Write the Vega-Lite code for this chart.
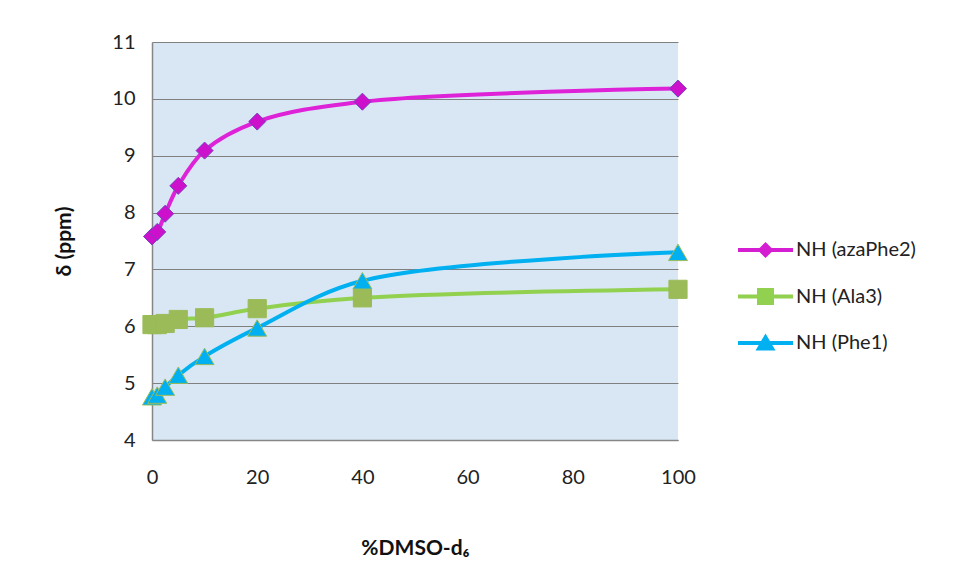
{
  "$schema": "https://vega.github.io/schema/vega-lite/v6.json",
  "width": 526,
  "height": 398,
  "autosize": "none",
  "padding": {"left": 152, "top": 42, "right": 278, "bottom": 141},
  "background": "white",
  "config": {
    "font": "Lato",
    "view": {"fill": "#d9e7f5", "stroke": null},
    "axis": {
      "labelFont": "Lato",
      "labelFontSize": 20,
      "labelColor": "#222222",
      "domainColor": "#868686",
      "domainWidth": 1.5,
      "ticks": false,
      "labelFlush": false,
      "gridColor": "#808080",
      "gridWidth": 1.2,
      "titleFont": "Lato",
      "titleFontWeight": "bold",
      "titleFontSize": 21,
      "titleColor": "#111111"
    }
  },
  "data": {
    "values": [
      {"x": 0, "y": 7.58, "s": "NH (azaPhe2)"},
      {"x": 1, "y": 7.66, "s": "NH (azaPhe2)"},
      {"x": 2.5, "y": 7.98, "s": "NH (azaPhe2)"},
      {"x": 5, "y": 8.47, "s": "NH (azaPhe2)"},
      {"x": 10, "y": 9.09, "s": "NH (azaPhe2)"},
      {"x": 20, "y": 9.6, "s": "NH (azaPhe2)"},
      {"x": 40, "y": 9.95, "s": "NH (azaPhe2)"},
      {"x": 100, "y": 10.18, "s": "NH (azaPhe2)"},
      {"x": 0, "y": 6.03, "s": "NH (Ala3)"},
      {"x": 1, "y": 6.03, "s": "NH (Ala3)"},
      {"x": 2.5, "y": 6.05, "s": "NH (Ala3)"},
      {"x": 5, "y": 6.12, "s": "NH (Ala3)"},
      {"x": 10, "y": 6.15, "s": "NH (Ala3)"},
      {"x": 20, "y": 6.31, "s": "NH (Ala3)"},
      {"x": 40, "y": 6.5, "s": "NH (Ala3)"},
      {"x": 100, "y": 6.65, "s": "NH (Ala3)"},
      {"x": 0, "y": 4.76, "s": "NH (Phe1)"},
      {"x": 1, "y": 4.79, "s": "NH (Phe1)"},
      {"x": 2.5, "y": 4.93, "s": "NH (Phe1)"},
      {"x": 5, "y": 5.14, "s": "NH (Phe1)"},
      {"x": 10, "y": 5.47, "s": "NH (Phe1)"},
      {"x": 20, "y": 5.97, "s": "NH (Phe1)"},
      {"x": 40, "y": 6.8, "s": "NH (Phe1)"},
      {"x": 100, "y": 7.3, "s": "NH (Phe1)"}
    ]
  },
  "encoding": {
    "x": {
      "field": "x", "type": "quantitative",
      "scale": {"domain": [0, 100], "nice": false},
      "axis": {"values": [0, 20, 40, 60, 80, 100], "grid": false, "labelPadding": 27, "title": "%DMSO-d₆", "titlePadding": 50}
    },
    "y": {
      "field": "y", "type": "quantitative",
      "scale": {"domain": [4, 11], "nice": false, "zero": false},
      "axis": {"values": [4, 5, 6, 7, 8, 9, 10, 11], "grid": true, "labelPadding": 17, "title": "δ (ppm)", "titlePadding": 37}
    }
  },
  "layer": [
    {
      "mark": {"type": "line", "interpolate": "catmull-rom", "strokeWidth": 4},
      "encoding": {
        "color": {
          "field": "s", "type": "nominal",
          "scale": {"domain": ["NH (azaPhe2)", "NH (Ala3)", "NH (Phe1)"], "range": ["#de22d8", "#92d050", "#00b0f0"]},
          "legend": {
            "title": null,
            "orient": "none",
            "legendX": 581,
            "legendY": 198,
            "labelFontSize": 20,
            "labelFont": "Lato",
            "labelColor": "#222222",
            "labelOffset": 43,
            "symbolSize": 100,
            "rowPadding": 26.5,
            "encode": {
              "symbols": {
                "update": {
                  "shape": {"signal": "datum.value === 'NH (azaPhe2)' ? 'M-1,-0.4H10V0.4H-1Z M4.5,-1.6L6.1,0L4.5,1.6L2.9,0Z' : datum.value === 'NH (Ala3)' ? 'M-1,-0.4H10V0.4H-1Z M2.8,-1.7H6.2V1.7H2.8Z' : 'M-1,-0.4H10V0.4H-1Z M4.5,-1.9L6.5,1.5H2.5Z'"},
                  "fill": {"signal": "datum.value === 'NH (azaPhe2)' ? '#d51ed2' : datum.value === 'NH (Ala3)' ? '#92d050' : '#00b0f0'"},
                  "fillOpacity": {"value": 1},
                  "strokeWidth": {"value": 0}
                }
              }
            }
          }
        }
      }
    },
    {
      "transform": [{"filter": "datum.s === 'NH (azaPhe2)'"}],
      "mark": {"type": "point", "shape": "diamond", "filled": true, "opacity": 1, "fill": "#cc10cc", "stroke": "#7a3fc0", "strokeWidth": 1, "strokeOpacity": 1, "size": 290}
    },
    {
      "transform": [{"filter": "datum.s === 'NH (Ala3)'"}],
      "mark": {"type": "point", "shape": "square", "filled": true, "opacity": 1, "fill": "#9bbb59", "stroke": "#9bbb59", "strokeWidth": 1, "strokeOpacity": 1, "size": 330}
    },
    {
      "transform": [{"filter": "datum.s === 'NH (Phe1)'"}],
      "mark": {"type": "point", "shape": "triangle-up", "filled": true, "opacity": 1, "fill": "#00b0f0", "stroke": "#9bbb59", "strokeWidth": 1, "strokeOpacity": 1, "size": 360}
    }
  ]
}
